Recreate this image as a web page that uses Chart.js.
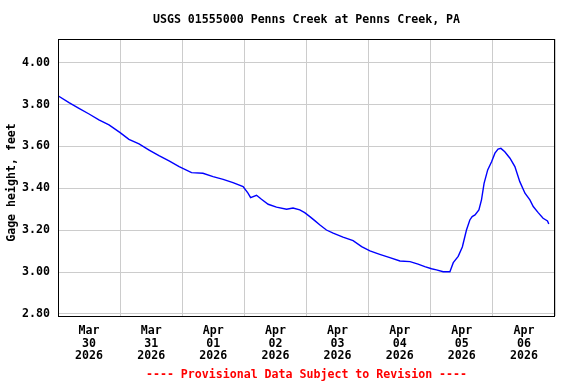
<!DOCTYPE html>
<html><head><meta charset="utf-8">
<script src="https://cdn.jsdelivr.net/npm/chart.js@4"></script>
<style>html,body{margin:0;padding:0;background:#fff}</style>
</head><body>
<canvas id="c" width="576" height="384"></canvas>
<script>
const chartTitle = 'USGS 01555000 Penns Creek at Penns Creek, PA';
const yAxisTitle = 'Gage height, feet';
const footerText = '---- Provisional Data Subject to Revision ----';
const dayLabels = [['Mar','30','2026'],['Mar','31','2026'],['Apr','01','2026'],['Apr','02','2026'],['Apr','03','2026'],['Apr','04','2026'],['Apr','05','2026'],['Apr','06','2026']];
const yTickValues = [2.80, 3.00, 3.20, 3.40, 3.60, 3.80, 4.00];
// hours since 2026-03-30 00:00
const hours = [0,4.25,8.1,12.0,15.8,19.7,24.0,27.4,31.3,35.2,39.0,42.9,46.8,51.6,56.0,59.9,63.8,67.6,71.5,73.4,74.4,76.7,78.6,81.2,84.4,88.3,90.8,93.4,95.3,97.3,99.2,101.2,103.7,106.3,110.1,114.0,117.3,120.5,124.3,128.2,132.1,136.0,139.1,141.7,144.3,146.2,148.8,151.4,152.7,154.6,156.2,157.8,159.1,160.0,161.1,162.6,163.6,164.6,166.0,167.5,168.8,170.0,171.1,172.6,174.6,176.5,178.4,180.4,182.3,183.6,185.5,187.4,189.1,189.6];
const gageFeet = [3.842,3.809,3.782,3.755,3.727,3.703,3.666,3.634,3.612,3.583,3.556,3.531,3.504,3.475,3.472,3.456,3.443,3.427,3.408,3.377,3.356,3.367,3.348,3.324,3.310,3.300,3.306,3.297,3.284,3.265,3.246,3.225,3.201,3.186,3.167,3.150,3.122,3.101,3.085,3.069,3.053,3.050,3.038,3.026,3.016,3.011,3.002,3.002,3.045,3.075,3.120,3.201,3.249,3.265,3.273,3.297,3.345,3.424,3.488,3.527,3.568,3.587,3.591,3.575,3.544,3.504,3.432,3.377,3.345,3.313,3.284,3.257,3.244,3.230];

const FONT = '"DejaVu Sans Mono", "Liberation Mono", monospace';
const xTickHours = [];
for (let h = 0; h <= dayLabels.length * 24; h += 12) xTickHours.push(h);

const points = hours.map((h, i) => ({x: h, y: gageFeet[i]}));

const decor = {
  id: 'decor',
  afterDraw(chart) {
    const {ctx, chartArea: a} = chart;
    ctx.save();
    ctx.strokeStyle = '#000';
    ctx.lineWidth = 1;
    ctx.strokeRect(a.left + 0.5, a.top + 0.5, a.right - a.left - 1, a.bottom - a.top);
    ctx.fillStyle = '#000';
    ctx.font = 'bold 11.6px ' + FONT;
    ctx.textAlign = 'center';
    ctx.textBaseline = 'middle';
    const cx = (a.left + a.right) / 2;
    ctx.fillText(chartTitle, cx, 20);
    ctx.fillStyle = '#ff0000';
    ctx.fillText(footerText, cx, 375);
    ctx.fillStyle = '#000';
    ctx.translate(12, 182.5);
    ctx.rotate(-Math.PI / 2);
    ctx.fillText(yAxisTitle, 0, 0);
    ctx.restore();
  }
};

new Chart(document.getElementById('c'), {
  type: 'line',
  data: { datasets: [{ data: points, borderColor: '#0000ff', borderWidth: 1.4, pointRadius: 0, tension: 0, fill: false }] },
  options: {
    responsive: false, animation: false, devicePixelRatio: 1,
    layout: { padding: { top: 39, right: 21, left: 0, bottom: 0 } },
    plugins: { legend: { display: false }, tooltip: { enabled: false }, title: { display: false } },
    scales: {
      x: {
        type: 'linear', min: 0, max: dayLabels.length * 24,
        afterBuildTicks: s => { s.ticks = xTickHours.map(v => ({ value: v })); },
        afterFit: s => { s.height = 68; },
        border: { display: false },
        grid: { drawTicks: false, lineWidth: 1, color: c => (c.tick && c.tick.value % 24 === 0) ? '#cccccc' : 'rgba(0,0,0,0)' },
        ticks: { autoSkip: false, maxRotation: 0, minRotation: 0, padding: 8, color: '#000',
          font: { family: FONT, size: 11.6, weight: 'bold', lineHeight: 1.12 },
          callback: v => (v % 24 === 12) ? dayLabels[(v - 12) / 24] : '' }
      },
      y: {
        min: 2.7904, max: 4.1132,
        afterBuildTicks: s => { s.ticks = yTickValues.map(v => ({ value: v })); },
        afterFit: s => { s.width = 58; },
        border: { display: false },
        grid: { drawTicks: false, lineWidth: 1, color: '#cccccc' },
        ticks: { padding: 8, color: '#000', font: { family: FONT, size: 11.6, weight: 'bold' },
          callback: v => Number(v).toFixed(2) }
      }
    }
  },
  plugins: [decor]
});
</script>
</body></html>
